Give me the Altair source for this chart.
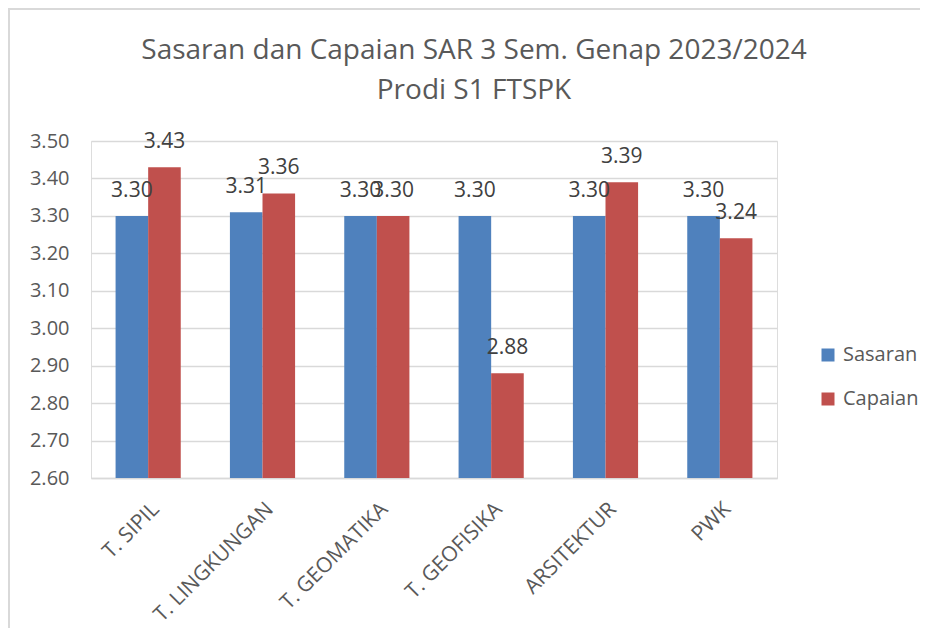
import altair as alt
import pandas as pd

categories = ["T. SIPIL", "T. LINGKUNGAN", "T. GEOMATIKA", "T. GEOFISIKA", "ARSITEKTUR", "PWK"]
sasaran = [3.30, 3.31, 3.30, 3.30, 3.30, 3.30]
capaian = [3.43, 3.36, 3.30, 2.88, 3.39, 3.24]
series_names = ["Sasaran", "Capaian"]
series_colors = ["#4F81BD", "#C0504D"]
y_ticks = [2.6, 2.7, 2.8, 2.9, 3.0, 3.1, 3.2, 3.3, 3.4, 3.5]
title_lines = ["Sasaran dan Capaian SAR 3 Sem. Genap 2023/2024", "Prodi S1 FTSPK"]

rows = []
for i, c in enumerate(categories):
    rows.append({"Prodi": c, "Seri": "Sasaran", "Nilai": sasaran[i]})
    rows.append({"Prodi": c, "Seri": "Capaian", "Nilai": capaian[i]})
df = pd.DataFrame(rows)

FONT = "Open Sans"
W, H = 686, 337

x_enc = alt.X("Prodi:N", sort=categories,
              scale=alt.Scale(paddingInner=0.43, paddingOuter=0.215),
              axis=alt.Axis(title=None, labelAngle=-45, labelFontSize=21, labelColor="#595959",
                            labelFont=FONT, ticks=False, domain=True, domainColor="#d9d9d9",
                            domainWidth=1.5, labelPadding=20, labelLimit=300, labelOverlap=False))
xo_enc = alt.XOffset("Seri:N", sort=series_names, scale=alt.Scale(paddingInner=0, paddingOuter=0))
y_enc = alt.Y("Nilai:Q", scale=alt.Scale(domain=[2.6, 3.5], zero=False, nice=False),
              axis=alt.Axis(title=None, values=y_ticks, format=".2f", labelFontSize=20,
                            labelColor="#595959", labelFont=FONT, ticks=False, domain=False,
                            grid=True, gridColor="#d9d9d9", gridWidth=1.5, labelPadding=22,
                            labelOverlap=False, labelFlush=False))
color_enc = alt.Color("Seri:N", sort=series_names,
                      scale=alt.Scale(domain=series_names, range=series_colors),
                      legend=alt.Legend(title=None, orient="none", legendX=727, legendY=204,
                                        symbolType="square", symbolSize=169, symbolStrokeWidth=0,
                                        labelFontSize=20, labelColor="#595959", labelFont=FONT,
                                        rowPadding=24, padding=0, labelOffset=5))

bars = alt.Chart(df).mark_bar(clip=True).encode(
    x=x_enc, xOffset=xo_enc, y=y_enc, color=color_enc
)

labels = alt.Chart(df).mark_text(dy=-19, baseline="alphabetic", fontSize=21, font=FONT,
                                 color="#404040").encode(
    x=x_enc,
    xOffset=xo_enc,
    y=y_enc,
    text=alt.Text("Nilai:Q", format=".2f"),
)

frame_top = alt.Chart(df).mark_rule(color="#d9d9d9", strokeWidth=2).encode(
    x=alt.value(-83), x2=alt.value(880), y=alt.value(-132)
)
frame_left = alt.Chart(df).mark_rule(color="#d9d9d9", strokeWidth=2).encode(
    x=alt.value(-82), y=alt.value(-133), y2=alt.value(500)
)

chart = alt.layer(frame_top, frame_left, bars, labels).properties(
    width=W, height=H,
    title=alt.TitleParams(text=title_lines, fontSize=28, font=FONT, color="#595959",
                          fontWeight="normal", lineHeight=40, anchor="middle", dx=40, offset=-98),
    autosize=alt.AutoSizeParams(type="none"),
    padding={"left": 83, "top": 133, "right": 143, "bottom": 150},
).configure_view(stroke=None).configure(background="white").configure_axis(labelOverlap=False)

chart.save("out.html", embed_options={"renderer": "svg", "actions": False})
